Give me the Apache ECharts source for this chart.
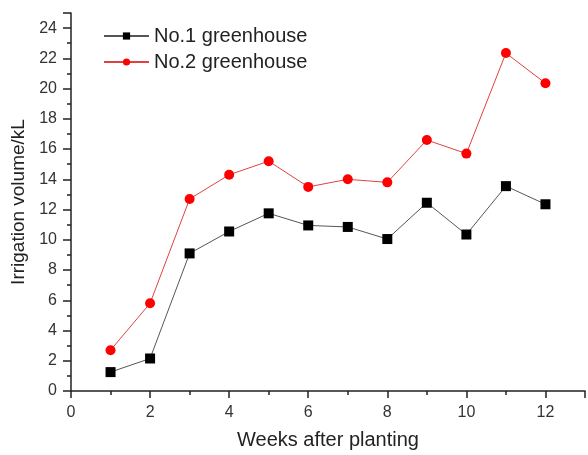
<!DOCTYPE html>
<html><head><meta charset="utf-8">
<script src="https://cdn.jsdelivr.net/npm/echarts@6/dist/echarts.min.js"></script>
<style>html,body{margin:0;padding:0;background:#fff}#c{width:588px;height:455px}</style>
</head><body><div id="c"></div>
<script>
var weeks = [1,2,3,4,5,6,7,8,9,10,11,12];
var gh1 = [1.25,2.15,9.1,10.55,11.75,10.95,10.85,10.05,12.45,10.35,13.55,12.35];
var gh2 = [2.7,5.8,12.7,14.3,15.2,13.5,14.0,13.8,16.6,15.7,22.35,20.35];
var xTicks = [0,2,4,6,8,10,12];
var yTicks = [0,2,4,6,8,10,12,14,16,18,20,22,24];
var font = 'Liberation Sans, Arial, sans-serif';
var chart = echarts.init(document.getElementById('c'));
function pairs(xs, ys){ return xs.map(function(x,i){return [x, ys[i]];}); }
var axisLine = {show:true, onZero:false, lineStyle:{color:'#222', width:1.5}};
chart.setOption({
  animation:false,
  grid:{left:71, top:13, right:-3, bottom:62, containLabel:false},
  legend:{
    left:98, top:21, orient:'vertical', itemGap:6, itemWidth:45, itemHeight:9,
    textStyle:{fontFamily:font, fontSize:20, color:'#222'},
    data:['No.1 greenhouse','No.2 greenhouse']
  },
  xAxis:{
    type:'value', min:0, max:13, interval:2,
    name:'Weeks after planting', nameLocation:'middle', nameGap:39,
    nameTextStyle:{fontFamily:font, fontSize:20, color:'#222'},
    axisLine:axisLine,
    axisTick:{show:true, inside:false, length:7, lineStyle:{color:'#222', width:1.5}},
    minorTick:{show:true, splitNumber:2, length:4, lineStyle:{color:'#222', width:1.5}},
    axisLabel:{fontFamily:font, fontSize:16, color:'#333', margin:14,
      formatter:function(v){ return xTicks.indexOf(v)>=0 ? String(v) : ''; }},
    splitLine:{show:false}
  },
  yAxis:{
    type:'value', min:0, max:25, interval:2,
    name:'Irrigation volume/kL', nameLocation:'middle', nameGap:37,
    nameTextStyle:{fontFamily:font, fontSize:19, color:'#222'},
    axisLine:axisLine,
    axisTick:{show:true, inside:false, length:8, lineStyle:{color:'#222', width:1.5}},
    minorTick:{show:true, splitNumber:2, length:4, lineStyle:{color:'#222', width:1.5}},
    axisLabel:{fontFamily:font, fontSize:16, color:'#333', margin:14,
      formatter:function(v){ return yTicks.indexOf(v)>=0 ? String(v) : ''; }},
    splitLine:{show:false}
  },
  series:[
    {name:'No.1 greenhouse', type:'line', data:pairs(weeks, gh1),
      symbol:'rect', symbolSize:10, itemStyle:{color:'#000'},
      lineStyle:{color:'#555', width:1}},
    {name:'No.2 greenhouse', type:'line', data:pairs(weeks, gh2),
      symbol:'circle', symbolSize:10, itemStyle:{color:'#ff0000'},
      lineStyle:{color:'#e04040', width:1}}
  ]
});
</script></body></html>
